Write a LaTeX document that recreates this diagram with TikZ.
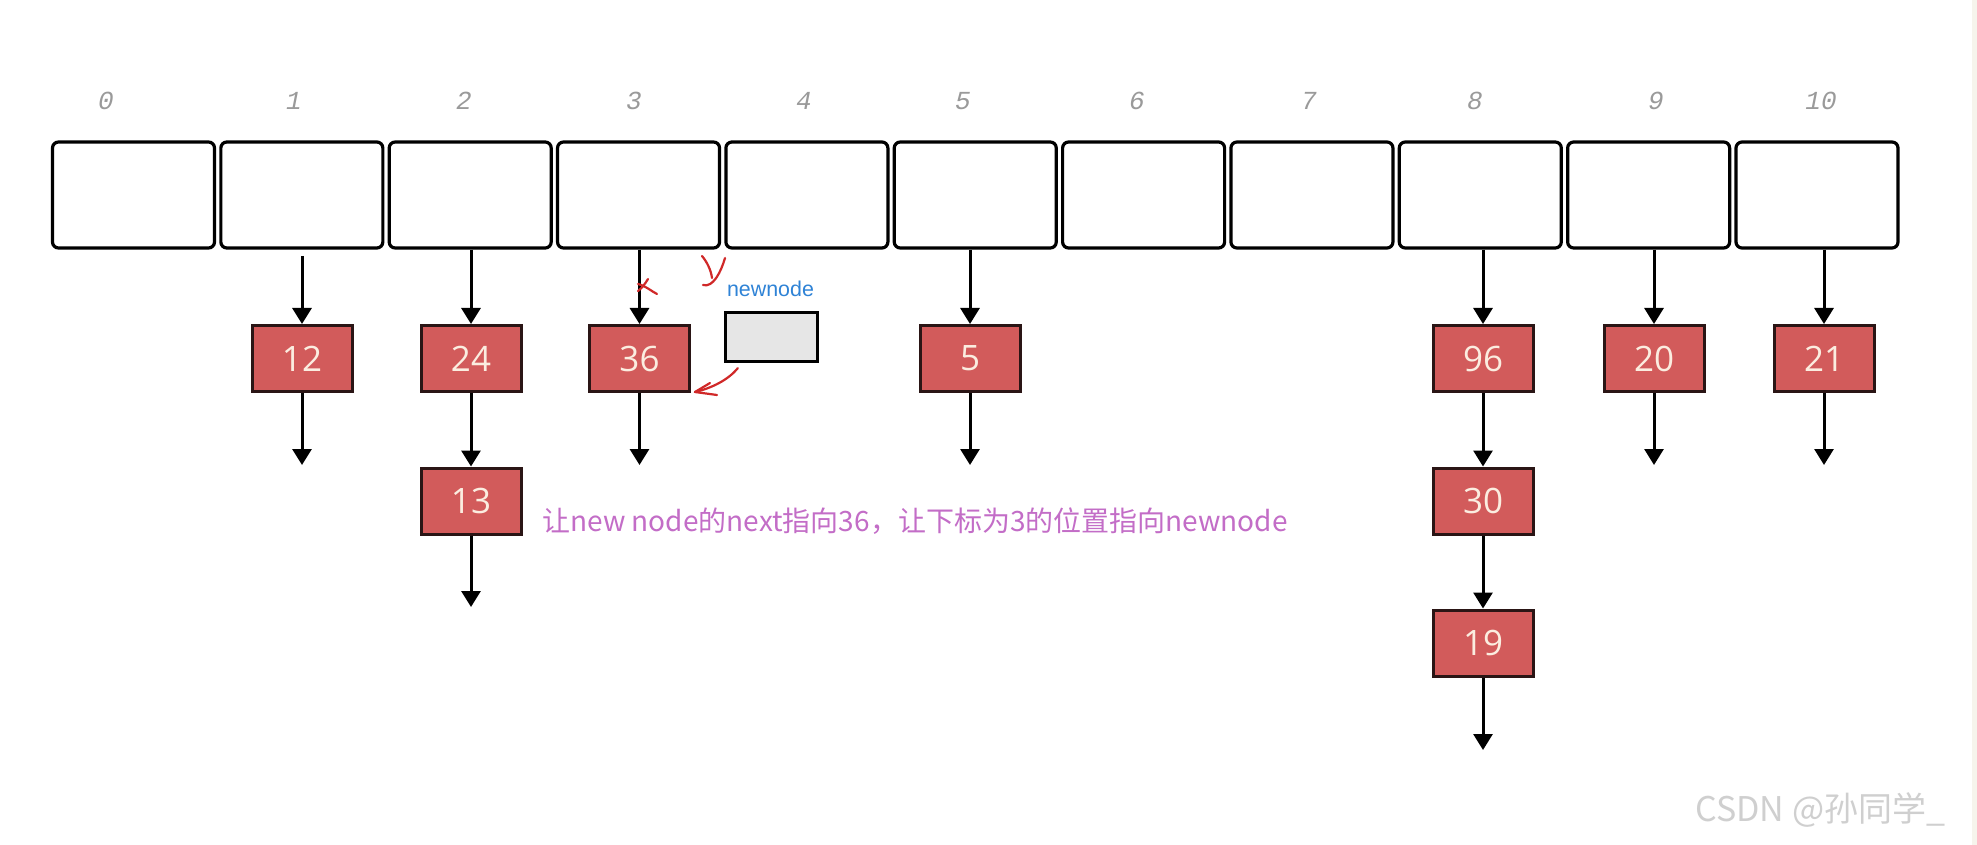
\documentclass[tikz,border=0pt]{standalone}
\usepackage{fontspec}
\setmainfont{Open Sans}
\newfontfamily\cjkfont{Noto Sans CJK SC}
\newfontfamily\idxfont{Liberation Mono}
\newfontfamily\lsans{Liberation Sans}
\usetikzlibrary{arrows.meta}
\definecolor{nodered}{HTML}{D25B5B}
\definecolor{nodeborder}{HTML}{2A1515}
\definecolor{nodetext}{HTML}{FBEDE0}
\definecolor{idxgray}{HTML}{9A9A9A}
\definecolor{noteviolet}{HTML}{C36DC7}
\definecolor{newblue}{HTML}{2F83D6}
\definecolor{newgray}{HTML}{E6E6E6}
\definecolor{penred}{HTML}{D02828}
\definecolor{wmgray}{HTML}{CFCFCF}
\definecolor{stripcol}{HTML}{F6F4EC}
\begin{document}
\begin{tikzpicture}[x=0.5pt,y=-0.5pt,
  slot/.style={draw=black, line width=1.6pt, rounded corners=3pt, minimum width=81pt, minimum height=53pt, inner sep=0pt, fill=white},
  item/.style={draw=nodeborder, fill=nodered, line width=1.5pt, minimum width=50pt, minimum height=33pt, inner sep=0pt, text=nodetext, font=\fontsize{17.5}{17.5}\selectfont},
  ptr/.style={line width=1.5pt, -{Triangle[length=8pt,width=9.5pt]}},
  idx/.style={text=idxgray, font=\idxfont\itshape\fontsize{13}{13}\selectfont},
  pen/.style={draw=penred, line width=1.1pt, line cap=round, line join=round}]
\useasboundingbox (0,0) rectangle (1977,845);
\fill[white] (0,0) rectangle (1977,845);
\fill[stripcol] (1972,0) rectangle (1977,845);

% array slots
\foreach \i in {0,...,10}
  \node[slot] (s\i) at ({133.5+168.35*\i},195) {};
\foreach \i/\x in {0/106,1/294,2/464,3/634,4/804,5/963,6/1137,7/1309,8/1475,9/1656,10/1821}
  \node[idx] (l\i) at (\x,101) {\i};

% list items
\node[item] (n12) at (302,358.5) {12};
\node[item] (n24) at (471,358.5) {24};
\node[item] (n13) at (471,501) {13};
\node[item] (n36) at (639.5,358.5) {36};
\node[item] (n5)  at (970,358.5) {5};
\node[item] (n96) at (1483,358.5) {96};
\node[item] (n30) at (1483,501) {30};
\node[item] (n19) at (1483,643) {19};
\node[item] (n20) at (1654,358.5) {20};
\node[item] (n21) at (1824,358.5) {21};

% free ends
\coordinate (t1) at (302,256);
\coordinate (e12) at (302,465);
\coordinate (e13) at (471,607);
\coordinate (e36) at (639.5,465);
\coordinate (e5) at (970,465);
\coordinate (e19) at (1483,750);
\coordinate (e20) at (1654,465);
\coordinate (e21) at (1824,465);

% pointers from slots
\draw[ptr] (t1) -- (n12.north);
\draw[ptr] (s2.south -| n24.north) -- (n24.north);
\draw[ptr] (s3.south -| n36.north) -- (n36.north);
\draw[ptr] (s5.south -| n5.north) -- (n5.north);
\draw[ptr] (s8.south -| n96.north) -- (n96.north);
\draw[ptr] (s9.south -| n20.north) -- (n20.north);
\draw[ptr] (s10.south -| n21.north) -- (n21.north);

% pointers between items
\draw[ptr] (n12.south) -- (e12);
\draw[ptr] (n24.south) -- (n13.north);
\draw[ptr] (n13.south) -- (e13);
\draw[ptr] (n36.south) -- (e36);
\draw[ptr] (n5.south) -- (e5);
\draw[ptr] (n96.south) -- (n30.north);
\draw[ptr] (n30.south) -- (n19.north);
\draw[ptr] (n19.south) -- (e19);
\draw[ptr] (n20.south) -- (e20);
\draw[ptr] (n21.south) -- (e21);

% new node
\node[draw=black, line width=1.6pt, fill=newgray, minimum width=46pt, minimum height=24.5pt, inner sep=0pt] (nn) at (771.5,337) {};
\node[text=newblue, font=\lsans\fontsize{10.7}{10.7}\selectfont, anchor=base, inner sep=0pt] (nnl) at (770.5,296.5) {newnode};

% note
\node[anchor=west, text=noteviolet, font=\cjkfont\fontsize{14}{14}\selectfont, inner sep=0pt] (note) at (542,521) {让new node的next指向36，让下标为3的位置指向newnode};

% watermark
\node[anchor=west, text=wmgray, font=\cjkfont\fontsize{17}{17}\selectfont, inner sep=0pt] (wm) at (1695,810) {CSDN @孙同学\_};

% handwritten red marks
\draw[pen] (648,279) .. controls (645,284) and (642,288) .. (638,291);
\draw[pen] (638,284) .. controls (646,286) and (651,291) .. (657,294);
\draw[pen] (702,256) .. controls (707,262) and (711,270) .. (712,278);
\draw[pen] (725,258) .. controls (721,272) and (713,288) .. (703,285);
\coordinate (ps) at ([xshift=7pt,yshift=-2.5pt]nn.south west);
\coordinate (pe) at ([xshift=2pt,yshift=0.5pt]n36.south east);
\draw[pen] (ps) .. controls (728,380) and (712,388) .. (pe);
\draw[pen] (710,383) -- (pe) -- (717,395);
\end{tikzpicture}
\end{document}
